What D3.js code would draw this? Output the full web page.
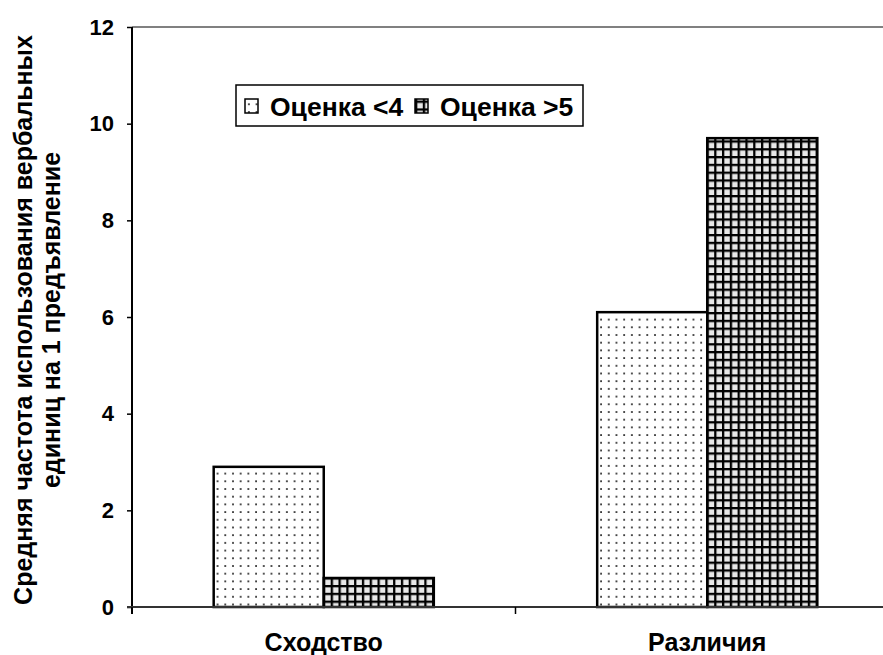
<!DOCTYPE html>
<html>
<head>
<meta charset="utf-8">
<script src="https://cdn.jsdelivr.net/npm/d3@7"></script>
<style>
  body { margin: 0; background: #fff; }
  svg { display: block; font-family: "Liberation Sans", Arial, sans-serif; font-weight: bold; }
</style>
</head>
<body>
<svg id="chart" width="883" height="655"></svg>
<script>
// Data
const categories = ["Сходство", "Различия"];
const seriesNames = ["Оценка <4", "Оценка >5"];
const seriesValues = [
  [2.9, 6.1],  // Оценка <4
  [0.6, 9.7]   // Оценка >5
];
const yTicks = [0, 2, 4, 6, 8, 10, 12];
const yTitle = ["Средняя частота использования вербальных", "единиц на 1 предъявление"];

let svg = d3.select("#chart");

// Patterns
let defs = svg.append("defs");
let dots = defs.append("pattern")
  .attr("id", "dots")
  .attr("patternUnits", "userSpaceOnUse")
  .attr("width", 7.7).attr("height", 7.7);
dots.append("rect").attr("width", 7.7).attr("height", 7.7).attr("fill", "#fff");
dots.append("rect").attr("x", 3).attr("y", 3).attr("width", 1.8).attr("height", 1.8).attr("fill", "#333");

let grid = defs.append("pattern")
  .attr("id", "grid")
  .attr("patternUnits", "userSpaceOnUse")
  .attr("width", 7.8).attr("height", 7.8);
grid.append("rect").attr("width", 7.8).attr("height", 7.8).attr("fill", "#e8e8e8");
grid.append("rect").attr("width", 7.8).attr("height", 2.3).attr("fill", "#000");
grid.append("rect").attr("width", 2.3).attr("height", 7.8).attr("fill", "#000");

const fills = ["url(#dots)", "url(#grid)"];

// Scales
let y = d3.scaleLinear().domain([0, 12]).range([607, 27]);
let x0 = d3.scaleBand().domain(categories).range([132, 899])
  .paddingInner(0.426).paddingOuter(0.213);
let x1 = d3.scaleBand().domain(d3.range(seriesNames.length)).range([0, x0.bandwidth()]);

// Plot border (top, grey)
svg.append("line")
  .attr("x1", 132).attr("x2", 899)
  .attr("y1", y(12)).attr("y2", y(12))
  .attr("stroke", "#808080").attr("stroke-width", 2);

// Bars
let groups = svg.append("g").selectAll("g")
  .data(categories)
  .join("g")
    .attr("transform", d => `translate(${x0(d)},0)`);

groups.selectAll("rect")
  .data((c, ci) => seriesValues.map((s, si) => ({si: si, v: s[ci]})))
  .join("rect")
    .attr("x", d => x1(d.si))
    .attr("y", d => y(d.v))
    .attr("width", x1.bandwidth())
    .attr("height", d => y(0) - y(d.v))
    .attr("fill", d => fills[d.si])
    .attr("stroke", "#000")
    .attr("stroke-width", 2.5);

// Y axis
let yAxis = svg.append("g")
  .attr("transform", "translate(132,0)")
  .call(d3.axisLeft(y).tickValues(yTicks).tickSize(5).tickPadding(13));
yAxis.attr("font-size", 22).attr("font-family", null);
yAxis.select(".domain").attr("stroke", "#000").attr("stroke-width", 2)
  .attr("d", `M0,${y(12)}V${y(0) + 7}`);
yAxis.selectAll(".tick line").attr("stroke", "#000").attr("stroke-width", 1.5);
yAxis.selectAll(".tick text")
  .attr("font-size", 22)
  .attr("fill", "#000");

// X axis
let xAxis = svg.append("g")
  .attr("transform", `translate(0,${y(0)})`);
xAxis.append("line")
  .attr("x1", 127).attr("x2", 899)
  .attr("stroke", "#333").attr("stroke-width", 2);
xAxis.selectAll(".cat-tick")
  .data([132, x0.step() + 132, 2 * x0.step() + 132])
  .join("line")
    .attr("x1", d => d).attr("x2", d => d)
    .attr("y1", 0).attr("y2", 7)
    .attr("stroke", "#000").attr("stroke-width", 1.5);
xAxis.selectAll("text")
  .data(categories)
  .join("text")
    .attr("x", d => x0(d) + x0.bandwidth() / 2)
    .attr("y", 44)
    .attr("text-anchor", "middle")
    .attr("font-size", 25)
    .text(d => d);

// Y title
let yt = svg.append("text")
  .attr("transform", `translate(32,${(y(0) + y(12)) / 2 + 3}) rotate(-90)`)
  .attr("text-anchor", "middle")
  .attr("font-size", 25);
yt.selectAll("tspan")
  .data(yTitle)
  .join("tspan")
    .attr("x", 0)
    .attr("dy", (d, i) => i === 0 ? 0 : 28)
    .text(d => d);

// Legend
let legend = svg.append("g").attr("transform", "translate(236,85)");
legend.append("rect")
  .attr("width", 347).attr("height", 41)
  .attr("fill", "#fff").attr("stroke", "#000").attr("stroke-width", 1.5);
const legendX = [9, 179];
let item = legend.selectAll(".item")
  .data(seriesNames)
  .join("g")
    .attr("class", "item")
    .attr("transform", (d, i) => `translate(${legendX[i]},0)`);
item.append("rect")
  .attr("y", 14).attr("width", 13).attr("height", 14)
  .attr("fill", (d, i) => fills[i])
  .attr("stroke", "#000").attr("stroke-width", 1.5);
item.append("text")
  .attr("x", 25).attr("y", 31)
  .attr("font-size", 26.5)
  .text(d => d);
</script>
</body>
</html>
